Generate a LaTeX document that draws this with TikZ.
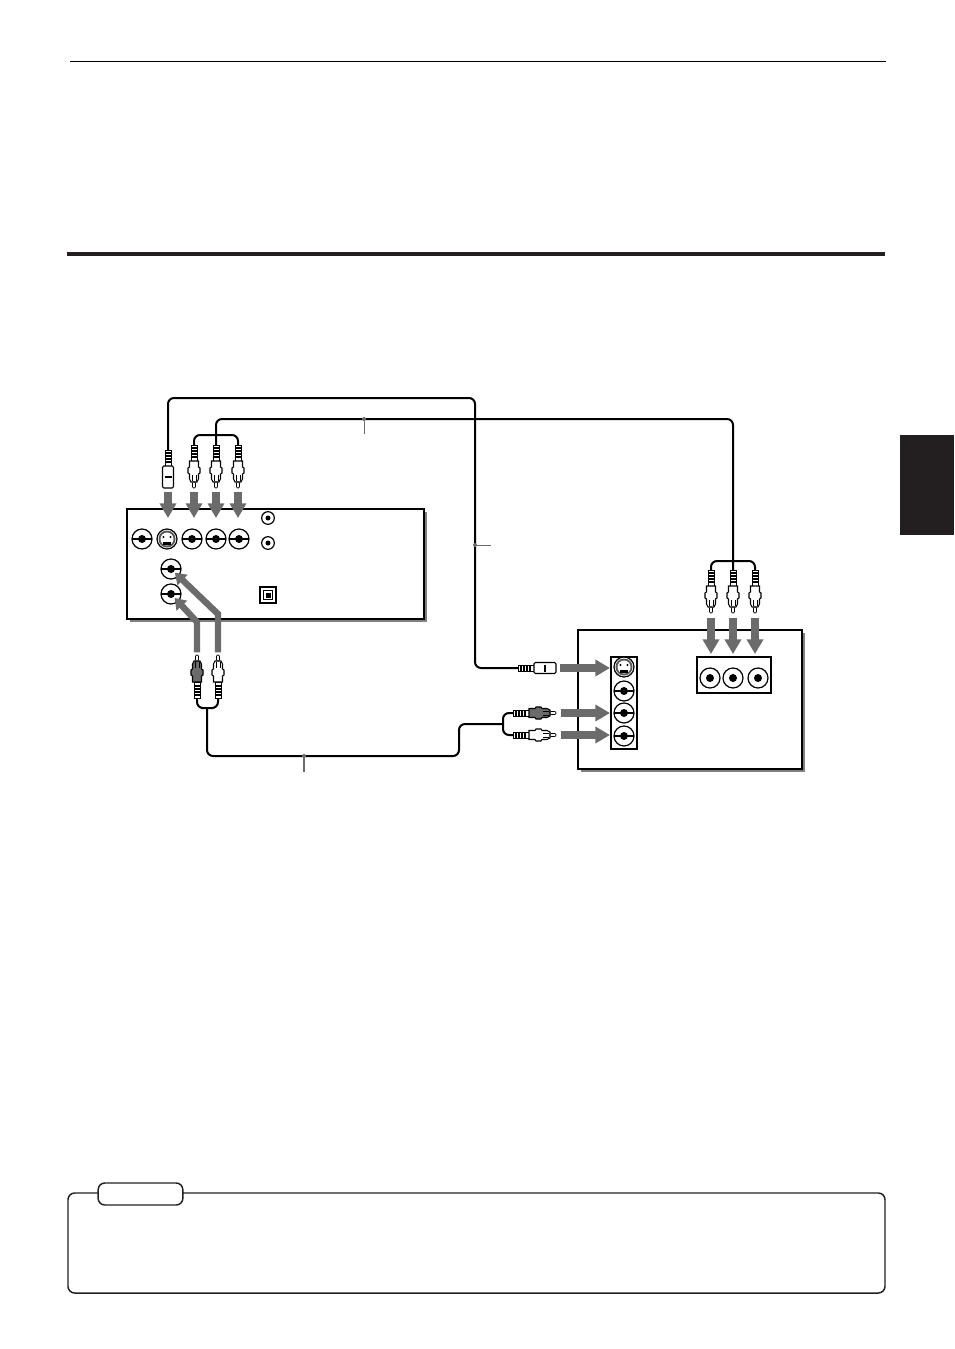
\documentclass[tikz,border=0pt]{standalone}
\usepackage{tikz}
\usetikzlibrary{arrows.meta,shadows}
\definecolor{arrowgray}{HTML}{6B6B6B}
\definecolor{shadowgray}{HTML}{808080}
\definecolor{tabblack}{HTML}{231F20}
\tikzset{every picture/.append style={x=.75pt, y=-.75pt}}
\tikzset{
    devicebox/.style={rectangle, draw, fill=white, line width=1.5pt, inner sep=0pt,
        drop shadow={shadow xshift=2.25pt, shadow yshift=-2.25pt, fill=shadowgray, opacity=1}},
    jackpanel/.style={rectangle, draw, line width=.8pt, inner sep=0pt},
    jackplain/.style={circle, draw, fill=white, line width=.9pt, inner sep=0pt, minimum size=15pt,
        path picture={\fill[black] (path picture bounding box.center) circle (4);}},
    jackbar/.style={jackplain, path picture={
        \draw[line width=.9pt] (path picture bounding box.west) -- (path picture bounding box.east);
        \fill[black] (path picture bounding box.center) circle (4);}},
    jacksmall/.style={circle, draw, fill=white, line width=.9pt, inner sep=0pt, minimum size=9.5pt,
        path picture={\fill[black] (path picture bounding box.center) circle (2.5);}},
    jacks/.style={circle, draw, fill=white, line width=.9pt, inner sep=0pt, minimum size=15pt,
        path picture={
        \fill[tabblack!75] (path picture bounding box.center) circle (8.5);
        \fill[white] (path picture bounding box.center) circle (6.5);
        \fill[black] (path picture bounding box.center) ++(-4,3) rectangle ++(8,3);
        \fill[black] (path picture bounding box.center) ++(-3.5,-2) circle (1.2);
        \fill[black] (path picture bounding box.center) ++(3.5,-2) circle (1.2);}},
    jackopt/.style={rectangle, draw, fill=white, line width=1.1pt, inner sep=0pt, minimum size=12pt,
        path picture={
        \draw[line width=.7pt] (path picture bounding box.center) ++(-4.5,-4.5) rectangle ++(9,9);
        \fill[black] (path picture bounding box.center) ++(-2.5,-2.5) rectangle ++(5,5);}},
    cable/.style={line width=1.5pt, rounded corners=4.5pt},
    leader/.style={draw=arrowgray, line width=.7pt},
    leaderdot/.style={circle, fill=arrowgray, inner sep=0pt, minimum size=3pt},
    fatarrow/.style={draw=arrowgray, line width=6pt, miter limit=10,
        -{Triangle[length=11pt, width=12pt]}},
    thinarrow/.style={draw=arrowgray, line width=4.8pt, miter limit=10,
        -{Triangle[length=8pt, width=10.5pt]}},
    pics/rcaplug/.style={code={
        \draw[fill=white, line width=.6pt] (-3,0) rectangle (3,16);
        \foreach \sy in {3,6,9,12}
            \draw[line width=1.2pt] (-3,\sy) -- (3,\sy);
        \draw[fill=#1, line width=.8pt] (-4.5,16) -- (4.5,16) -- (4.5,22) -- (6,23) -- (6,28)
            -- (4.5,29) -- (4.5,34) -- (3,37) -- (-3,37) -- (-4.5,34) -- (-4.5,29) -- (-6,28)
            -- (-6,23) -- (-4.5,22) -- cycle;
        \draw[line width=.5pt] (-2,30) -- (-2,36) (2,30) -- (2,36);
        \draw[fill=white, line width=.5pt, rounded corners=.8pt] (-1.5,37) rectangle (1.5,43);
        \coordinate (-end) at (0,0);
        \coordinate (-tip) at (0,43);
    }},
    pics/splug/.style={code={
        \draw[fill=white, line width=.6pt] (-3,0) rectangle (3,16);
        \foreach \sy in {3,6,9,12}
            \draw[line width=1.2pt] (-3,\sy) -- (3,\sy);
        \draw[fill=white, line width=.8pt, rounded corners=1pt] (-5.5,16) rectangle (5.5,38);
        \draw[line width=.8pt] (-3.5,27) -- (3.5,27);
        \coordinate (-end) at (0,0);
        \coordinate (-tip) at (0,38);
    }}
}

\begin{document}
\begin{tikzpicture}
  \useasboundingbox (0,0) rectangle (954,1349);

  % page rules and side tab
  \coordinate (headl) at (70,61);
  \coordinate (headr) at (886,61);
  \coordinate (rulel) at (67,254);
  \coordinate (ruler) at (885,254);
  \draw[line width=.6pt] (headl) -- (headr);
  \draw[line width=2.4pt, tabblack] (rulel) -- (ruler);
  \fill[tabblack] (900,435) rectangle (954,535);

  % note frame
  \draw[line width=1.1pt, tabblack, rounded corners=5pt] (68,1193) rectangle (885,1293);
  \node (notetab) [draw=tabblack, fill=white, line width=1.1pt, rounded corners=5pt, inner sep=0pt,
      minimum width=63.5pt, minimum height=16.5pt] at (140.5,1194) {};

  % devices
  \node (playerbox) [devicebox, minimum width=222.75pt, minimum height=82.5pt] at (275.5,564) {};
  \node (tvbox) [devicebox, minimum width=168pt, minimum height=104.25pt] at (690,699.5) {};
  \node (tvinleft) [jackpanel, fill=white, minimum width=19.5pt, minimum height=69pt] at (624,703) {};
  \node (tvinright) [jackpanel, fill=white, minimum width=55.5pt, minimum height=27pt] at (734,675) {};

  % player jacks
  \node (pj1) [jackbar] at (142,539) {};
  \node (pj2) [jacks] at (167,539) {};
  \node (pj3) [jackbar] at (192,539) {};
  \node (pj4) [jackbar] at (216,539) {};
  \node (pj5) [jackbar] at (239,539) {};
  \node (pa1) [jackbar] at (171,569) {};
  \node (pa2) [jackbar] at (171,594) {};
  \node (ps1) [jacksmall] at (268,518) {};
  \node (ps2) [jacksmall] at (268,543) {};
  \node (opt) [jackopt] at (268,595) {};

  % tv jacks
  \node (tj1) [jacks] at (624,667) {};
  \node (tj2) [jackbar] at (624,691) {};
  \node (tj3) [jackbar] at (624,713) {};
  \node (tj4) [jackbar] at (624,736) {};
  \node (tc1) [jackplain] at (710,678) {};
  \node (tc2) [jackplain] at (733,678) {};
  \node (tc3) [jackplain] at (758,678) {};

  % plugs
  \pic (sp1) at (168,450) {splug};
  \pic (cp1) at (194,445) {rcaplug=white};
  \pic (cp2) at (216,445) {rcaplug=white};
  \pic (cp3) at (238,445) {rcaplug=white};
  \pic (cq1) at (711,570) {rcaplug=white};
  \pic (cq2) at (733,570) {rcaplug=white};
  \pic (cq3) at (755,570) {rcaplug=white};
  \pic (ap1) at (197,698) [rotate=180] {rcaplug=arrowgray};
  \pic (ap2) at (218,698) [rotate=180] {rcaplug=white};
  \pic (sp2) at (518,668) [rotate=90] {splug};
  \pic (aq1) at (513,713) [rotate=90] {rcaplug=arrowgray};
  \pic (aq2) at (513,735) [rotate=90] {rcaplug=white};

  % cables
  \coordinate (stop) at (475,398);
  \coordinate (ctop) at (733,419);
  \coordinate (cbar) at (216,435);
  \coordinate (dbar) at (733,561);
  \coordinate (abar) at (207,708);
  \coordinate (acorner) at (459,756);
  \coordinate (bbar) at (503,724);
  \draw[cable] (sp1-end) |- (stop) |- (sp2-end);
  \draw[cable] (cp2-end) |- (ctop) -- (cq2-end);
  \draw[cable] (cp1-end) |- (cbar) -| (cp3-end);
  \draw[cable] (cq1-end) |- (dbar) -| (cq3-end);
  \draw[cable] (ap1-end) |- (abar) -| (ap2-end);
  \draw[cable] (abar) |- (acorner) |- (bbar);
  \draw[cable] (aq1-end) -| (bbar) |- (aq2-end);

  % leaders
  \node (tag1) [leaderdot] at (364,419) {};
  \node (tag2) [leaderdot] at (475,545) {};
  \node (tag3) [leaderdot] at (304,756) {};
  \coordinate (tag1e) at (364,434);
  \coordinate (tag2e) at (491,545);
  \coordinate (tag3e) at (304,772);
  \draw[leader] (tag1) -- (tag1e);
  \draw[leader] (tag2) -- (tag2e);
  \draw[leader, line width=1pt] (tag3) -- (tag3e);

  % arrows to the player
  \draw[fatarrow, shorten <=3pt, shorten >=15.75pt] (sp1-tip) -- (sp1-tip |- pj2);
  \draw[fatarrow, shorten <=3pt, shorten >=15.75pt] (cp1-tip) -- (cp1-tip |- pj3);
  \draw[fatarrow, shorten <=3pt, shorten >=15.75pt] (cp2-tip) -- (cp2-tip |- pj4);
  \draw[fatarrow, shorten <=3pt, shorten >=15.75pt] (cp3-tip) -- (cp3-tip |- pj5);
  \coordinate (abend1) at (197,622);
  \coordinate (abend2) at (218,614);
  \draw[thinarrow, shorten <=2pt, shorten >=4pt] (ap1-tip) -- (abend1) -- (pa2.center);
  \draw[thinarrow, shorten <=2pt, shorten >=4pt] (ap2-tip) -- (abend2) -- (pa1.center);

  % arrows to the tv
  \draw[fatarrow, shorten <=3.75pt, shorten >=18pt] (cq1-tip) -- (cq1-tip |- tc1);
  \draw[fatarrow, shorten <=3.75pt, shorten >=18pt] (cq2-tip) -- (cq2-tip |- tc2);
  \draw[fatarrow, shorten <=3.75pt, shorten >=18pt] (cq3-tip) -- (cq3-tip |- tc3);
  \draw[fatarrow, shorten <=3pt, shorten >=10.5pt] (sp2-tip) -- (sp2-tip -| tj1);
  \draw[fatarrow, shorten <=3.75pt, shorten >=10.5pt] (aq1-tip) -- (aq1-tip -| tj3);
  \draw[fatarrow, shorten <=3.75pt, shorten >=10.5pt] (aq2-tip) -- (aq2-tip -| tj4);

\end{tikzpicture}
\end{document}
